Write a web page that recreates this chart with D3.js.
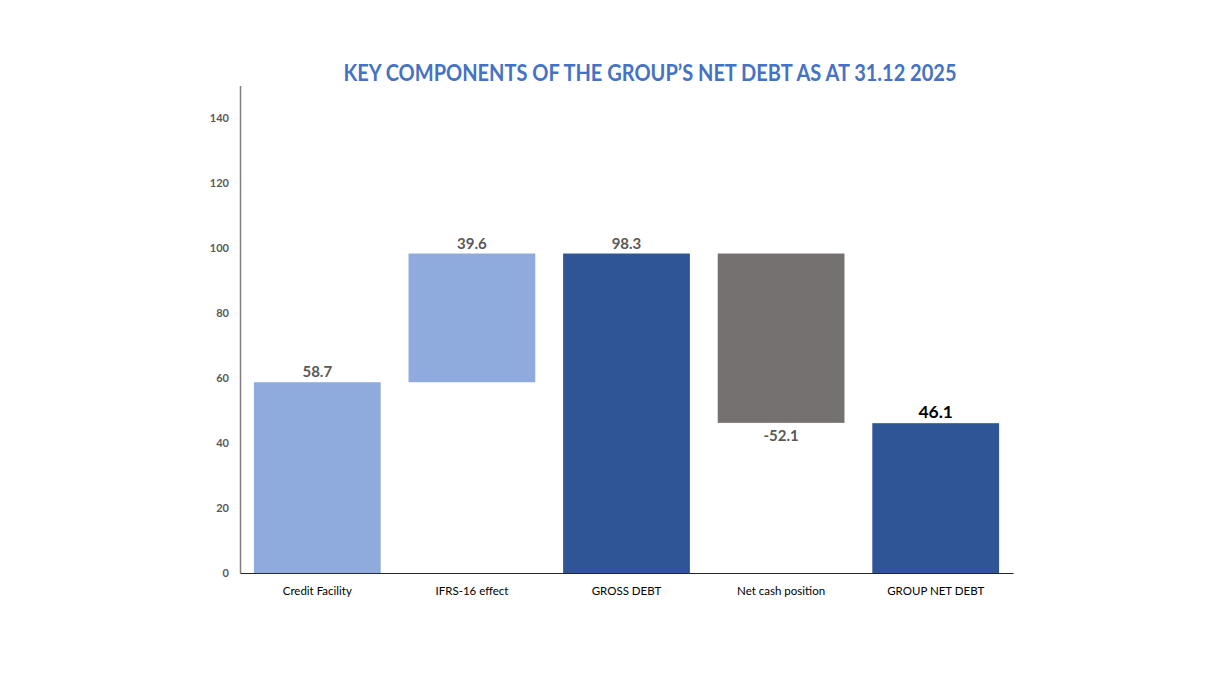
<!DOCTYPE html>
<html>
<head>
<meta charset="utf-8">
<script src="https://cdn.jsdelivr.net/npm/d3@7"></script>
<style>
  html, body { margin: 0; padding: 0; background: #fff; }
  svg { display: block; }
</style>
</head>
<body>
<svg id="chart" width="1223" height="683"></svg>
<script>
const categories = ["Credit Facility", "IFRS-16 effect", "GROSS DEBT", "Net cash position", "GROUP NET DEBT"];
const values = [58.7, 39.6, 98.3, -52.1, 46.1];
const kinds = ["start", "delta", "total", "delta", "total"];
const barColors = ["#8FAADC", "#8FAADC", "#2F5597", "#767171", "#2F5597"];
const yTicks = [0, 20, 40, 60, 80, 100, 120, 140];

const svg = d3.select("#chart");
const font = "Lato, 'Open Sans', sans-serif";

const x = d3.scaleBand().domain(categories).range([240, 1013]).paddingInner(0.18).paddingOuter(0.09);
const y = d3.scaleLinear().domain([0, 150]).range([573, 85.5]);

// waterfall extents
let run = 0;
const bars = categories.map((c, i) => {
  let lo, hi;
  if (kinds[i] !== "delta") { lo = 0; hi = values[i]; run = values[i]; }
  else { const s = run; run = s + values[i]; lo = Math.min(s, run); hi = Math.max(s, run); }
  return { c, v: values[i], lo, hi, color: barColors[i] };
});

svg.append("text")
  .attr("x", 650).attr("y", 81)
  .attr("text-anchor", "middle")
  .attr("font-family", font)
  .attr("font-weight", "bold")
  .attr("font-size", 22.5)
  .attr("textLength", 613)
  .attr("lengthAdjust", "spacingAndGlyphs")
  .attr("fill", "#4472C4")
  .text("KEY COMPONENTS OF THE GROUP\u2019S NET DEBT AS AT 31.12 2025");

svg.selectAll("rect.bar").data(bars).enter().append("rect")
  .attr("class", "bar")
  .attr("x", d => x(d.c))
  .attr("width", x.bandwidth())
  .attr("y", d => y(d.hi))
  .attr("height", d => y(d.lo) - y(d.hi))
  .attr("fill", d => d.color);

// y axis
const yAxis = svg.append("g").attr("transform", "translate(240,0)")
  .call(d3.axisLeft(y).tickValues(yTicks).tickSize(0).tickPadding(11));
yAxis.select(".domain").attr("stroke", "#7f7f7f").attr("stroke-width", 1.5);
yAxis.selectAll("text")
  .attr("font-family", font).attr("font-weight", "bold").attr("font-size", 11).attr("fill", "#595959");

// x axis
const xAxis = svg.append("g").attr("transform", "translate(0,573)")
  .call(d3.axisBottom(x).tickSize(0).tickPadding(14));
xAxis.select(".domain").attr("stroke", "#262626").attr("stroke-width", 1.2);
xAxis.selectAll("text")
  .attr("font-family", font).attr("font-size", 11.5).attr("fill", "#000");

// value labels
svg.selectAll("text.val").data(bars).enter().append("text")
  .attr("class", "val")
  .attr("x", d => x(d.c) + x.bandwidth() / 2)
  .attr("y", d => d.v < 0 ? y(d.lo) + 18 : y(d.hi) - 5)
  .attr("text-anchor", "middle")
  .attr("font-family", font)
  .attr("font-weight", "bold")
  .attr("font-size", d => d.c === "GROUP NET DEBT" ? 17.5 : 15)
  .attr("fill", d => d.c === "GROUP NET DEBT" ? "#000" : "#595959")
  .text(d => d.v.toFixed(1));
</script>
</body>
</html>
